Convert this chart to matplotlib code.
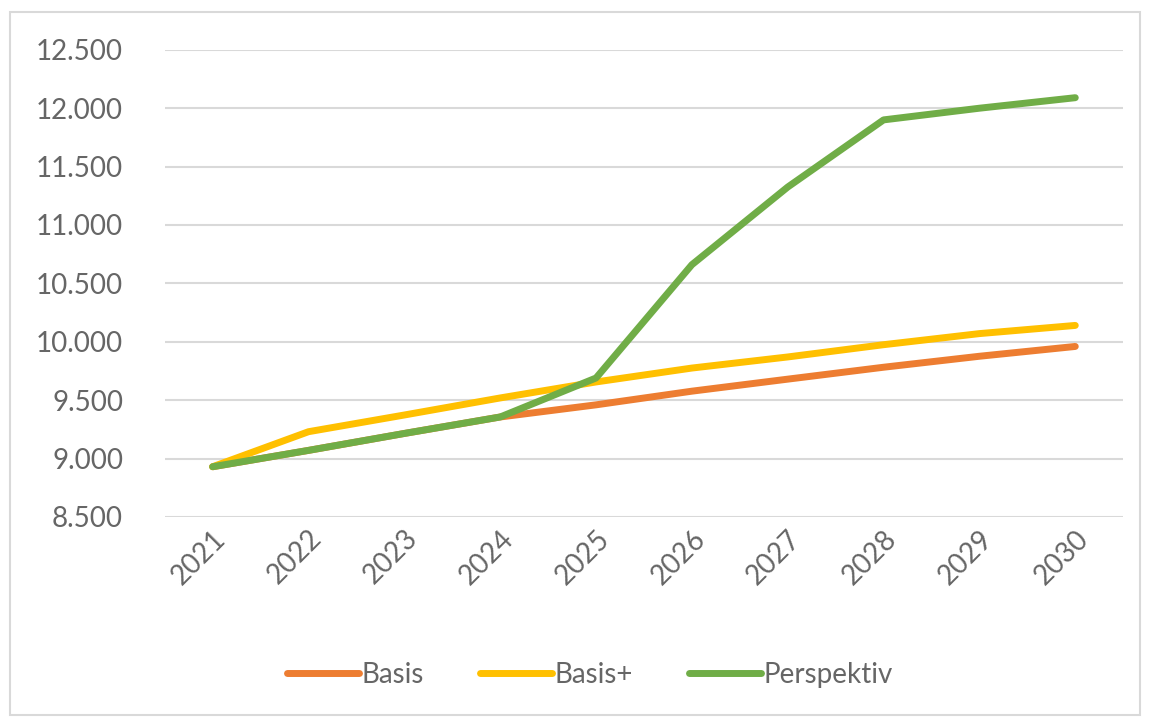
import matplotlib.pyplot as plt
from matplotlib.patches import Rectangle
from matplotlib.ticker import FuncFormatter

years = ['2021', '2022', '2023', '2024', '2025', '2026', '2027', '2028', '2029', '2030']
basis = [8930, 9070, 9215, 9356, 9460, 9577, 9680, 9782, 9876, 9960]
basis_plus = [8930, 9230, 9373, 9519, 9656, 9775, 9870, 9975, 10070, 10140]
perspektiv = [8930, 9070, 9215, 9356, 9690, 10660, 11325, 11900, 12000, 12090]

plt.rcParams['font.family'] = ['Lato', 'DejaVu Sans']
text_color = '#666666'

fig = plt.figure(figsize=(11.52, 7.22), dpi=100)
ax = fig.add_axes([0.143, 0.284, 0.832, 0.647])

x = list(range(len(years)))
ax.plot(x, basis, color='#ED7D31', lw=5, solid_capstyle='round', label='Basis')
ax.plot(x, basis_plus, color='#FFC000', lw=5, solid_capstyle='round', label='Basis+')
ax.plot(x, perspektiv, color='#70AD47', lw=5, solid_capstyle='round', label='Perspektiv')

ax.set_xlim(-0.5, len(years) - 0.5)
ax.set_ylim(8500, 12500)
ax.set_yticks(range(8500, 12501, 500))
ax.yaxis.set_major_formatter(FuncFormatter(lambda v, p: f'{int(v):,}'.replace(',', '.')))
ax.set_xticks(x)
ax.set_xticklabels(years, rotation=45, ha='right', va='top', rotation_mode='anchor')

ax.grid(axis='y', color='#D9D9D9', lw=1.5)
ax.set_axisbelow(True)
for s in ax.spines.values():
    s.set_visible(False)
ax.tick_params(length=0, labelsize=20, colors=text_color)
ax.tick_params(axis='y', pad=30)
ax.tick_params(axis='x', pad=6)

fig.legend(loc='center', bbox_to_anchor=(0.512, 0.065), ncol=3, frameon=False,
           fontsize=20, labelcolor=text_color, handlelength=2.6, handletextpad=0.1,
           columnspacing=2.0)

fig.patches.append(Rectangle((10 / 1152, 7 / 722), 1130 / 1152, 703 / 722,
                             transform=fig.transFigure, fill=False,
                             edgecolor='#D9D9D9', lw=1.5))

fig.savefig('out.png', dpi=100)
